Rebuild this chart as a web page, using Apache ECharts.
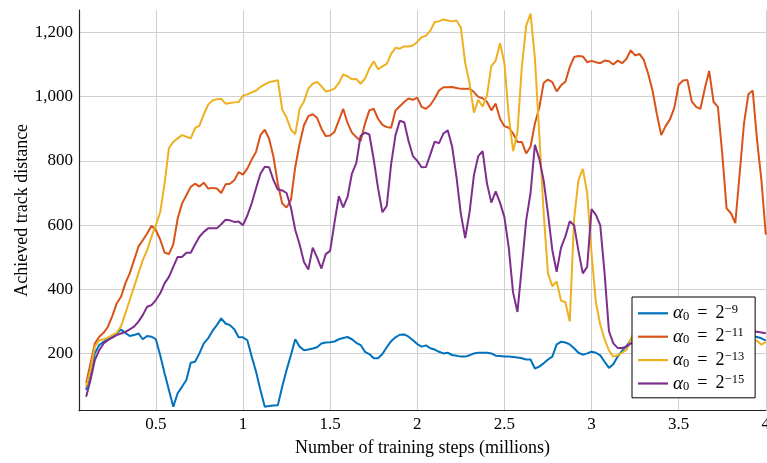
<!DOCTYPE html>
<html><head><meta charset="utf-8">
<script src="https://cdn.jsdelivr.net/npm/echarts@6/dist/echarts.min.js"></script>
<style>html,body{margin:0;padding:0;background:#fff}#c{width:767px;height:463px}</style>
</head><body><div id="c"></div>
<script>
// sampling grid of training steps (millions)
const stepStart = 0.1;
const stepSize = 0.025;

const seriesNames = ['α₀ = 2⁻⁹', 'α₀ = 2⁻¹¹', 'α₀ = 2⁻¹³', 'α₀ = 2⁻¹⁵'];
const exponents = ['−9', '−11', '−13', '−15'];

const alpha9 = [
  87, 140, 201, 227, 237, 245, 255, 263, 275, 265,
  255, 258, 263, 245, 255, 253, 245, 195, 139, 87,
  35, 77, 97, 118, 172, 175, 201, 232, 248, 271,
  289, 310, 294, 289, 276, 251, 251, 242, 191, 144,
  87, 35, 37, 39, 40, 97, 149, 196, 245, 222,
  211, 213, 216, 220, 232, 235, 236, 238, 245, 249,
  252, 245, 234, 227, 206, 199, 186, 186, 199, 220,
  239, 251, 259, 260, 253, 242, 230, 222, 226, 217,
  213, 206, 201, 203, 196, 194, 191, 191, 195, 201,
  203, 203, 203, 201, 194, 193, 191, 191, 190, 188,
  186, 182, 182, 154, 160, 170, 182, 191, 229, 237,
  235, 229, 217, 203, 197, 201, 206, 203, 195, 175,
  156, 167, 191, 209, 224, 242, 258, 262, 265, 260,
  255, 250, 248, 252, 258, 262, 265, 262, 258, 255,
  252, 250, 248, 250, 254, 256, 255, 253, 252, 252,
  254, 256, 255, 254, 252, 248, 241
];

const alpha11 = [
  108, 170, 232, 253, 265, 284, 317, 356, 377, 419,
  450, 491, 533, 553, 574, 598, 585, 555, 515, 510,
  540, 620, 667, 693, 719, 729, 720, 732, 714, 716,
  714, 700, 727, 729, 740, 765, 757, 776, 804, 828,
  880, 897, 869, 812, 729, 667, 655, 678, 781, 854,
  911, 939, 945, 934, 900, 877, 879, 890, 926, 962,
  918, 888, 874, 862, 916, 957, 962, 931, 912, 905,
  903, 957, 970, 983, 994, 990, 997, 968, 962, 974,
  994, 1019, 1029, 1029, 1030, 1027, 1024, 1024, 1025, 1014,
  999, 995, 984, 957, 978, 931, 908, 903, 885, 859,
  859, 823, 844, 916, 965, 1042, 1053, 1045, 1016, 1035,
  1046, 1092, 1123, 1126, 1125, 1107, 1111, 1107, 1104, 1112,
  1110, 1100, 1112, 1104, 1117, 1144, 1128, 1133, 1114, 1071,
  1019, 945, 880, 908, 929, 965, 1037, 1050, 1052, 985,
  968, 962, 1025, 1080, 984, 968, 823, 652, 637, 606,
  760, 917, 1007, 1019, 863, 739, 570
];

const alpha13 = [
  97, 150, 222, 242, 245, 250, 258, 265, 285, 325,
  367, 408, 450, 491, 522, 564, 600, 640, 730, 840,
  859, 870, 880, 875, 870, 902, 910, 945, 975, 988,
  992, 993, 978, 980, 982, 983, 1003, 1007, 1013, 1019,
  1030, 1038, 1045, 1048, 1051, 960, 935, 897, 883, 962,
  985, 1025, 1040, 1046, 1032, 1016, 1019, 1025, 1042, 1069,
  1063, 1054, 1055, 1040, 1056, 1087, 1110, 1085, 1094, 1102,
  1133, 1152, 1149, 1156, 1156, 1159, 1170, 1185, 1189, 1205,
  1232, 1234, 1240, 1237, 1234, 1237, 1215, 1105, 1042, 950,
  990, 969, 1003, 1095, 1112, 1166, 1104, 940, 830, 890,
  1093, 1220, 1258, 1120, 886, 640, 450, 410, 425, 365,
  360, 300, 620, 740, 775, 700, 512, 360, 290, 245,
  210, 191, 195, 203, 212, 245, 275, 285, 290, 282,
  270, 262, 258, 262, 270, 275, 270, 262, 255, 250,
  248, 252, 258, 262, 260, 255, 250, 246, 244, 246,
  250, 248, 245, 242, 240, 228, 236
];

const alpha15 = [
  66, 118, 180, 211, 232, 242, 250, 258, 263, 268,
  276, 284, 300, 320, 346, 351, 367, 388, 419, 439,
  470, 501, 501, 514, 514, 540, 564, 579, 590, 590,
  590, 603, 617, 615, 610, 611, 600, 630, 668, 715,
  760, 782, 780, 740, 711, 708, 700, 655, 585, 540,
  485, 462, 530, 500, 465, 510, 520, 608, 690, 655,
  688, 760, 793, 878, 888, 882, 805, 715, 640, 660,
  790, 880, 925, 920, 862, 815, 800, 780, 781, 820,
  860, 855, 885, 895, 845, 750, 636, 560, 640, 755,
  815, 830, 730, 670, 705, 670, 625, 530, 390, 330,
  470, 615, 700, 850, 807, 740, 637, 522, 455, 530,
  565, 612, 600, 520, 450, 470, 650, 632, 600, 450,
  270, 232, 218, 218, 222, 232, 235, 240, 245, 250,
  255, 258, 262, 265, 262, 258, 255, 258, 262, 268,
  272, 270, 266, 262, 260, 262, 265, 268, 270, 272,
  270, 268, 268, 268, 268, 266, 264
];

const xTicks = [0.5, 1, 1.5, 2, 2.5, 3, 3.5, 4];
const yTicks = [200, 400, 600, 800, 1000, 1200];
const colors = ['#0072BD', '#D95319', '#EDB120', '#7E2F8E'];

const FONT = "'Liberation Serif', 'Times New Roman', serif";
const allSeries = [alpha9, alpha11, alpha13, alpha15];

function toPoints(vals) {
  return vals.map((v, i) => [+(stepStart + i * stepSize).toFixed(4), v]);
}

const chart = echarts.init(document.getElementById('c'), null, {renderer: 'canvas'});
chart.setOption({
  animation: false,
  backgroundColor: '#fff',
  grid: {left: 79, right: 1.2, top: 10, bottom: 52.3, containLabel: false, outerBoundsMode: 'none'},
  xAxis: {
    type: 'value', min: 0.059, max: 4,
    name: 'Number of training steps (millions)',
    nameLocation: 'middle', nameGap: 29, nameMoveOverlap: false,
    nameTextStyle: {fontFamily: FONT, fontSize: 18, color: '#000'},
    axisLine: {show: true, onZero: false, lineStyle: {color: '#222', width: 1.2}},
    axisTick: {show: false, customValues: xTicks},
    axisLabel: {customValues: xTicks, fontFamily: FONT, fontSize: 17, color: '#000', margin: 5,
      formatter: v => String(v)},
    splitLine: {show: true, lineStyle: {color: '#d0d0d0', width: 1}}
  },
  yAxis: {
    type: 'value', min: 22.7, max: 1269.4,
    name: 'Achieved track distance',
    nameLocation: 'middle', nameGap: 48, nameMoveOverlap: false,
    nameTextStyle: {fontFamily: FONT, fontSize: 18, color: '#000'},
    axisLine: {show: true, onZero: false, lineStyle: {color: '#222', width: 1.2}},
    axisTick: {show: false, customValues: yTicks},
    axisLabel: {customValues: yTicks, fontFamily: FONT, fontSize: 17, color: '#000', margin: 6,
      formatter: v => v.toLocaleString('en-US')},
    splitLine: {show: true, lineStyle: {color: '#d0d0d0', width: 1}}
  },
  legend: {
    orient: 'vertical', left: 632, top: 297,
    padding: [6.3, 11, 4.3, 6],
    icon: 'rect',
    itemWidth: 30, itemHeight: 2.2, itemGap: 3.4,
    backgroundColor: '#fff', borderColor: '#000', borderWidth: 1,
    selectedMode: false,
    data: seriesNames,
    formatter: name => {
      const i = seriesNames.indexOf(name);
      return '{m|α}{sub|0}{t|\u2009 = \u20092}{sup|' + exponents[i] + '}';
    },
    textStyle: {
      fontFamily: FONT, fontSize: 18, color: '#000',
      rich: {
        m: {fontFamily: FONT, fontSize: 19, fontStyle: 'italic', lineHeight: 20, color: '#000'},
        t: {fontFamily: FONT, fontSize: 18, lineHeight: 20, color: '#000'},
        sub: {fontFamily: FONT, fontSize: 12.5, lineHeight: 12, verticalAlign: 'bottom', color: '#000'},
        sup: {fontFamily: FONT, fontSize: 12.5, lineHeight: 12, verticalAlign: 'top', color: '#000'}
      }
    }
  },
  series: allSeries.map((vals, k) => ({
    name: seriesNames[k], type: 'line', data: toPoints(vals),
    symbol: 'none', showSymbol: false,
    lineStyle: {color: colors[k], width: 2}, itemStyle: {color: colors[k]},
    clip: true
  }))
});
</script>
</body></html>
